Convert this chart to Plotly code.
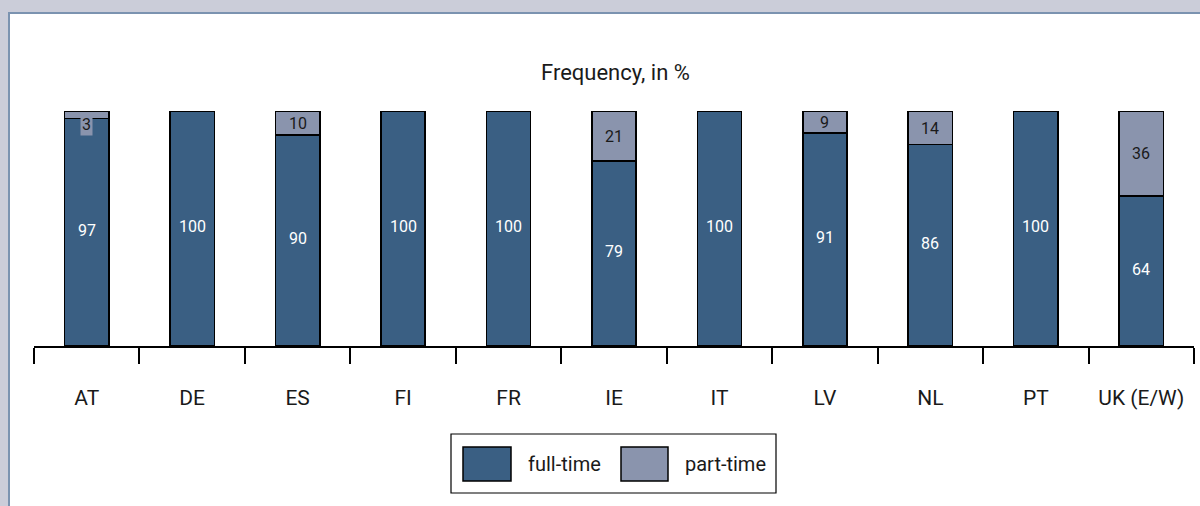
import plotly.graph_objects as go

categories = ["AT", "DE", "ES", "FI", "FR", "IE", "IT", "LV", "NL", "PT", "UK (E/W)"]
full_time = [97, 100, 90, 100, 100, 79, 100, 91, 86, 100, 64]
part_time = [3, 0, 10, 0, 0, 21, 0, 9, 14, 0, 36]
series_names = ["full-time", "part-time"]
title_text = "Frequency, in %"

FULL_C = "#3a5f83"
PART_C = "#8a94ad"
BG = "#cbcdd9"
FONT = "Roboto, sans-serif"

# pixel geometry helpers (plot area: x 34..1194, y 100..346)
L, R, T, B = 34, 6, 100, 160
PW, PH = 1200 - L - R, 506 - T - B


def px(x):
    return (x - L) / PW


def py(y):
    return (506 - B - y) / PH


fig = go.Figure()
fig.add_trace(go.Bar(x=categories, y=full_time, name=series_names[0],
                     marker=dict(color=FULL_C, line=dict(color="black", width=1.5)),
                     width=0.42, showlegend=False, hoverinfo="x+y"))
fig.add_trace(go.Bar(x=categories, y=part_time, name=series_names[1],
                     marker=dict(color=PART_C, line=dict(color="black", width=1.5)),
                     width=0.42, showlegend=False, hoverinfo="x+y"))

annotations = []
for c, f, p in zip(categories, full_time, part_time):
    annotations.append(dict(x=c, y=f / 2, text=str(f), showarrow=False,
                            yanchor="middle", yshift=2,
                            font=dict(family=FONT, size=16, color="white")))
    if p > 0:
        if p < 5:
            annotations.append(dict(x=c, y=f + p, text=str(p), showarrow=False,
                                    yanchor="top", yshift=-1, bgcolor=PART_C,
                                    borderpad=1,
                                    font=dict(family=FONT, size=16, color="#1a1a1a")))
        else:
            annotations.append(dict(x=c, y=f + p / 2, text=str(p), showarrow=False,
                                    yanchor="middle",
                                    font=dict(family=FONT, size=16, color="#1a1a1a")))

# title
annotations.append(dict(xref="paper", yref="paper", x=px(615), y=py(73), text=title_text,
                        xanchor="center", yanchor="middle",
                        showarrow=False, font=dict(family=FONT, size=22, color="#1a1a1a")))

shapes = [
    # white panel with border
    dict(type="rect", xref="paper", yref="paper", x0=px(9), x1=px(1215), y0=py(530), y1=py(13),
         line=dict(color="#7b93b0", width=2), fillcolor="white", layer="below"),
    # legend box
    dict(type="rect", xref="paper", yref="paper", x0=px(451), x1=px(776), y0=py(493), y1=py(434),
         line=dict(color="black", width=1.2), fillcolor="white"),
    dict(type="rect", xref="paper", yref="paper", x0=px(463), x1=px(511), y0=py(481), y1=py(447),
         line=dict(color="black", width=1.5), fillcolor=FULL_C),
    dict(type="rect", xref="paper", yref="paper", x0=px(621), x1=px(668), y0=py(481), y1=py(447),
         line=dict(color="black", width=1.5), fillcolor=PART_C),
]
annotations.append(dict(xref="paper", yref="paper", x=px(526), y=py(464), xanchor="left",
                        yanchor="middle", text=series_names[0], showarrow=False,
                        font=dict(family=FONT, size=20, color="#1a1a1a")))
annotations.append(dict(xref="paper", yref="paper", x=px(683), y=py(464), xanchor="left",
                        yanchor="middle", text=series_names[1], showarrow=False,
                        font=dict(family=FONT, size=20, color="#1a1a1a")))

fig.update_layout(
    barmode="stack",
    width=1200, height=506,
    margin=dict(l=L, r=R, t=T, b=B),
    paper_bgcolor=BG,
    plot_bgcolor="rgba(0,0,0,0)",
    font=dict(family=FONT, color="#1a1a1a"),
    annotations=annotations,
    shapes=shapes,
    xaxis=dict(type="category", range=[-0.5, len(categories) - 0.5],
               showline=True, linecolor="black", linewidth=1.5,
               ticks="outside", tickson="boundaries", ticklen=16, tickwidth=1.5,
               tickcolor="black", showgrid=False, zeroline=False,
               tickfont=dict(family=FONT, size=21, color="#1a1a1a"),
               ticklabelstandoff=32),
    yaxis=dict(range=[0, 105], visible=False, showgrid=False, zeroline=False),
)

fig.write_html("out.html",
               config={"displayModeBar": False},
               post_script="document.body.style.margin='0';"
                           "document.body.style.background='#cbcdd9';")
